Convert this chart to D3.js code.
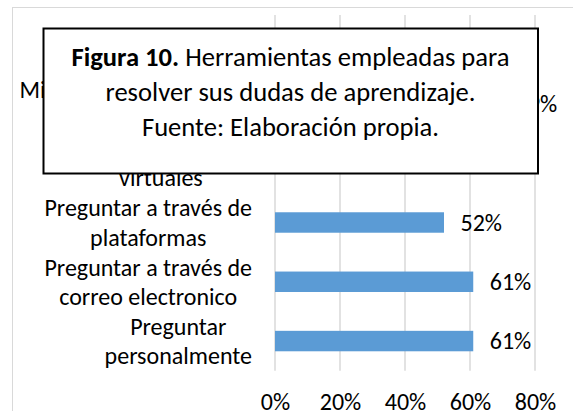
<!DOCTYPE html>
<html>
<head>
<meta charset="utf-8">
<script src="https://cdn.jsdelivr.net/npm/d3@7"></script>
<style>
  body { margin: 0; background: #fff; }
  svg text { font-family: Carlito, Calibri, Lato, sans-serif; fill: #000; }
</style>
</head>
<body>
<svg id="chart" width="573" height="411"></svg>
<script>
// categories from top to bottom, each split in its wrapped lines
const categories = [
  ["Buscar en internet"],
  ["Mis compañeros y tutor", "de clase"],
  ["Preguntar en aulas", "virtuales"],
  ["Preguntar a través de", "plataformas"],
  ["Preguntar a través de", "correo electronico"],
  ["Preguntar", "personalmente"]
];
const values = [0.39, 0.69, 0.48, 0.52, 0.61, 0.61];
const ticks = [0, 0.2, 0.4, 0.6, 0.8];
const caption = ["Herramientas empleadas para", "resolver sus dudas de aprendizaje.", "Fuente: Elaboración propia."];

const svg = d3.select("#chart");
const fs = 24;

// chart area border (runs off the page on the right and bottom)
svg.append("rect")
  .attr("x", 12.5).attr("y", 7.5)
  .attr("width", 700).attr("height", 500)
  .attr("fill", "none").attr("stroke", "#d9d9d9");

const keys = categories.map(d => d.join(" "));
const x = d3.scaleLinear().domain([0, 0.8]).range([275, 535]);
const y = d3.scaleBand().domain(keys).range([15, 370.7])
  .paddingInner(0.655).paddingOuter(0.3275);

// gridlines
svg.append("g").selectAll("line")
  .data(ticks)
  .join("line")
  .attr("x1", d => x(d)).attr("x2", d => x(d))
  .attr("y1", 15).attr("y2", 370.7)
  .attr("stroke", "#d9d9d9").attr("stroke-width", 1.5);

// bars
svg.append("g").selectAll("rect")
  .data(values)
  .join("rect")
  .attr("x", x(0))
  .attr("y", (d, i) => y(keys[i]))
  .attr("width", d => x(d) - x(0))
  .attr("height", y.bandwidth())
  .attr("fill", "#5b9bd5");

// value labels
svg.append("g").selectAll("text")
  .data(values)
  .join("text")
  .attr("x", d => x(d) + 16.5)
  .attr("y", (d, i) => y(keys[i]) + y.bandwidth() / 2)
  .attr("dy", "0.35em")
  .attr("font-size", fs)
  .text(d => d3.format(".0%")(d));

// category labels: block right-aligned, lines centred inside the block
const lineH = 29.3;
const labels = svg.append("g");
categories.forEach((lines, i) => {
  const cy = y(keys[i]) + y.bandwidth() / 2;
  const t = labels.append("g").selectAll("text")
    .data(lines)
    .join("text")
    .attr("font-size", fs)
    .attr("text-anchor", "middle")
    .attr("y", (d, j) => cy + (j - (lines.length - 1) / 2) * lineH)
    .attr("dy", "0.35em")
    .text(d => d);
  let maxW = 0;
  t.each(function() { maxW = Math.max(maxW, this.getComputedTextLength()); });
  t.attr("x", 252 - maxW / 2);
});

// x axis
const axis = svg.append("g")
  .attr("transform", "translate(0,370.7)")
  .call(d3.axisBottom(x).tickValues(ticks).tickFormat(d3.format(".0%")).tickSize(0));
axis.select(".domain").remove();
axis.selectAll("text")
  .attr("font-size", fs)
  .attr("font-family", "Carlito, Calibri, Lato, sans-serif")
  .attr("fill", "#000")
  .attr("y", 39.3).attr("dy", 0);

// caption box drawn over the chart
svg.append("rect")
  .attr("x", 43.5).attr("y", 28.5)
  .attr("width", 494.5).attr("height", 145)
  .attr("fill", "#fff").attr("stroke", "#000").attr("stroke-width", 2);

const cap = svg.append("g").attr("font-size", 26.6).attr("text-anchor", "middle");
const first = cap.append("text").attr("x", 290.5).attr("y", 66);
first.append("tspan").attr("font-weight", "bold").text("Figura 10.");
first.append("tspan").text(" " + caption[0]);
cap.append("text").attr("x", 290.5).attr("y", 101).text(caption[1]);
cap.append("text").attr("x", 290.5).attr("y", 136).text(caption[2]);
</script>
</body>
</html>
